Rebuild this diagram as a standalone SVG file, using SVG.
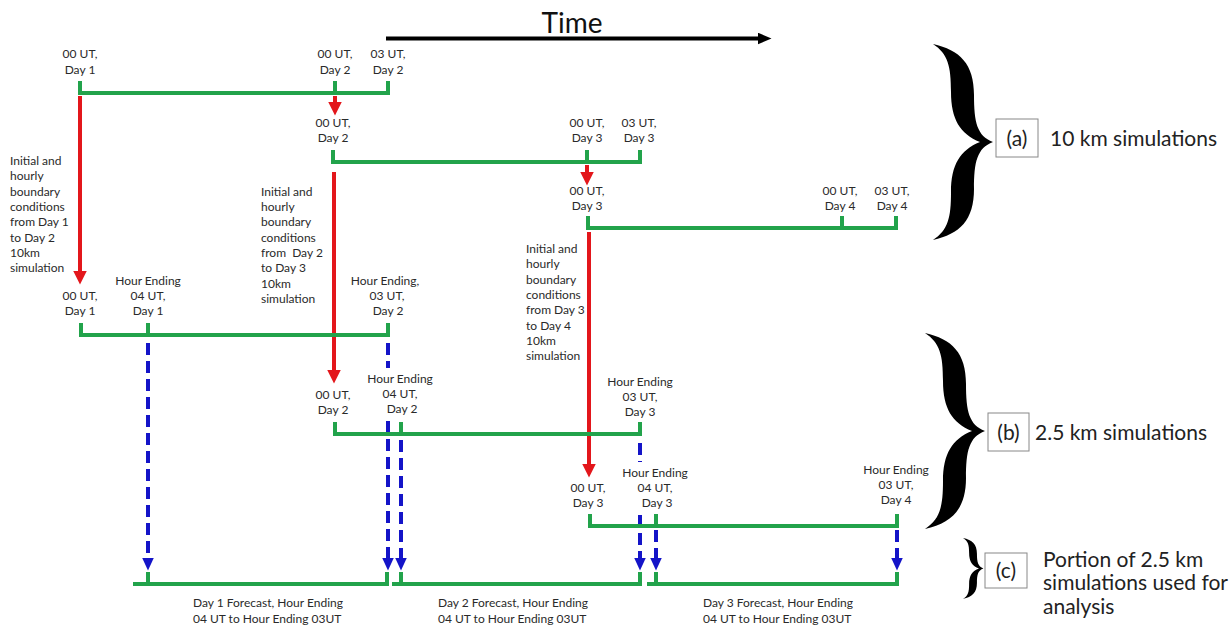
<svg xmlns="http://www.w3.org/2000/svg" width="1230" height="627" viewBox="0 0 1230 627">
<style>
.t{font-family:Lato,"Liberation Sans",sans-serif;font-size:12px;fill:#2a2a2a}
.m{text-anchor:middle}
.big{font-family:Lato,"Liberation Sans",sans-serif;font-size:21px;fill:#222}
.g{fill:none;stroke:#22a34b;stroke-width:4;stroke-linejoin:miter}
.r{stroke:#e3161b;stroke-width:4;fill:none}
.b{stroke:#1414c8;stroke-width:4;fill:none;stroke-dasharray:12 6}
.box{fill:#fff;stroke:#888;stroke-width:1}
</style>
<defs>
<marker id="ar" viewBox="0 -7 14 14" refX="0.5" refY="0" markerWidth="14" markerHeight="14" markerUnits="userSpaceOnUse" orient="auto"><path d="M0,-7 L14,0 L0,7 z" fill="#e3161b"/></marker>
<marker id="ab" viewBox="0 -6 13 12" refX="0.5" refY="0" markerWidth="13" markerHeight="12" markerUnits="userSpaceOnUse" orient="auto"><path d="M0,-6 L13,0 L0,6 z" fill="#1414c8"/></marker>
<marker id="ak" viewBox="0 -6 14 12" refX="0.5" refY="0" markerWidth="14" markerHeight="12" markerUnits="userSpaceOnUse" orient="auto"><path d="M0,-6 L14,0 L0,6 z" fill="#000"/></marker>
<path id="brace" d="M933 44 C960 50,974 64,974 95 C974 122,977 136,993 142 C977 148,974 162,974 189 C974 220,960 234,933 240 C948 230,951 218,951 192 C951 165,960 150,980 142 C960 134,951 119,951 92 C951 66,948 54,933 44 Z" fill="#000"/>
</defs>

<g id="time">
<text x="572" y="33" font-family="Lato,'Liberation Sans',sans-serif" font-size="28" fill="#111" text-anchor="middle">Time</text>
<line x1="386" y1="38.5" x2="758" y2="38.5" stroke="#000" stroke-width="4" marker-end="url(#ak)"/>
</g>

<g id="connectors">
<line class="r" x1="80" y1="96" x2="80" y2="271" marker-end="url(#ar)"/>
<line class="r" x1="335" y1="96" x2="335" y2="102" marker-end="url(#ar)"/>
<line class="r" x1="334" y1="172" x2="334" y2="370" marker-end="url(#ar)"/>
<line class="r" x1="587" y1="165" x2="587" y2="172" marker-end="url(#ar)"/>
<line class="r" x1="589" y1="232" x2="589" y2="464" marker-end="url(#ar)"/>
<line class="b" x1="148" y1="343" x2="148" y2="558" marker-end="url(#ab)"/>
<line class="b" x1="388" y1="343" x2="388" y2="368"/>
<line class="b" x1="388" y1="421" x2="388" y2="558" marker-end="url(#ab)"/>
<line class="b" x1="401" y1="440" x2="401" y2="558" marker-end="url(#ab)"/>
<line class="b" x1="640" y1="443" x2="640" y2="462"/>
<line class="b" x1="640" y1="515" x2="640" y2="558" marker-end="url(#ab)"/>
<line class="b" x1="656" y1="530" x2="656" y2="558" marker-end="url(#ab)"/>
<line class="b" x1="897" y1="530" x2="897" y2="558" marker-end="url(#ab)"/>
</g>

<g id="sim10-day1">
<path class="g" d="M80 81 V93 H388 V81 M335 93 V81"/>
<text class="t m" x="80" y="58">00 UT,</text><text class="t m" x="80" y="74">Day 1</text>
<text class="t m" x="335" y="58">00 UT,</text><text class="t m" x="335" y="74">Day 2</text>
<text class="t m" x="388" y="58">03 UT,</text><text class="t m" x="388" y="74">Day 2</text>
</g>

<g id="sim10-day2">
<path class="g" d="M333 150 V162 H640 V150 M587 162 V150"/>
<text class="t m" x="333" y="127">00 UT,</text><text class="t m" x="333" y="142">Day 2</text>
<text class="t m" x="587" y="127">00 UT,</text><text class="t m" x="587" y="142">Day 3</text>
<text class="t m" x="639" y="127">03 UT,</text><text class="t m" x="639" y="142">Day 3</text>
</g>

<g id="sim10-day3">
<path class="g" d="M588 216 V228 H896 V216 M842 228 V216"/>
<text class="t m" x="587" y="195">00 UT,</text><text class="t m" x="587" y="210">Day 3</text>
<text class="t m" x="840" y="195">00 UT,</text><text class="t m" x="840" y="210">Day 4</text>
<text class="t m" x="892" y="195">03 UT,</text><text class="t m" x="892" y="210">Day 4</text>
</g>

<g id="note1">
<text class="t" x="10" y="165">Initial and</text>
<text class="t" x="10" y="180">hourly</text>
<text class="t" x="10" y="196">boundary</text>
<text class="t" x="10" y="211">conditions</text>
<text class="t" x="10" y="226">from Day 1</text>
<text class="t" x="10" y="242">to Day 2</text>
<text class="t" x="10" y="257">10km</text>
<text class="t" x="10" y="272">simulation</text>
</g>
<g id="note2">
<text class="t" x="261" y="196">Initial and</text>
<text class="t" x="261" y="211">hourly</text>
<text class="t" x="261" y="226">boundary</text>
<text class="t" x="261" y="242">conditions</text>
<text class="t" x="261" y="257" xml:space="preserve">from  Day 2</text>
<text class="t" x="261" y="272">to Day 3</text>
<text class="t" x="261" y="288">10km</text>
<text class="t" x="261" y="303">simulation</text>
</g>
<g id="note3">
<text class="t" x="526" y="253">Initial and</text>
<text class="t" x="526" y="268">hourly</text>
<text class="t" x="526" y="284">boundary</text>
<text class="t" x="526" y="299">conditions</text>
<text class="t" x="526" y="314">from Day 3</text>
<text class="t" x="526" y="330">to Day 4</text>
<text class="t" x="526" y="345">10km</text>
<text class="t" x="526" y="360">simulation</text>
</g>

<g id="sim25-day1">
<path class="g" d="M81 323 V335 H388 V323 M148 335 V323"/>
<text class="t m" x="80" y="300">00 UT,</text><text class="t m" x="80" y="315">Day 1</text>
<text class="t m" x="148" y="285">Hour Ending</text><text class="t m" x="148" y="300">04 UT,</text><text class="t m" x="148" y="315">Day 1</text>
<text class="t m" x="385" y="285">Hour Ending,</text><text class="t m" x="387" y="300">03 UT,</text><text class="t m" x="388" y="315">Day 2</text>
</g>

<g id="sim25-day2">
<path class="g" d="M335 422 V434 H640 V422 M401 434 V422"/>
<text class="t m" x="333" y="399">00 UT,</text><text class="t m" x="333" y="414">Day 2</text>
<text class="t m" x="400" y="383">Hour Ending</text><text class="t m" x="400" y="398">04 UT,</text><text class="t m" x="402" y="413">Day 2</text>
<text class="t m" x="640" y="386">Hour Ending</text><text class="t m" x="640" y="401">03 UT,</text><text class="t m" x="640" y="416">Day 3</text>
</g>

<g id="sim25-day3">
<path class="g" d="M590 514 V526 H897 V514 M656 526 V514"/>
<text class="t m" x="588" y="492">00 UT,</text><text class="t m" x="588" y="507">Day 3</text>
<text class="t m" x="655" y="477">Hour Ending</text><text class="t m" x="655" y="492">04 UT,</text><text class="t m" x="657" y="507">Day 3</text>
<text class="t m" x="896" y="474">Hour Ending</text><text class="t m" x="896" y="489">03 UT,</text><text class="t m" x="896" y="504">Day 4</text>
</g>

<g id="analysis">
<path class="g" d="M133 584 H387 V572 M148 584 V572"/>
<path class="g" d="M392 584 H640 V572 M401 584 V572"/>
<path class="g" d="M647 584 H897 V572 M656 584 V572"/>
<text class="t" x="193" y="607">Day 1 Forecast, Hour Ending</text>
<text class="t" x="193" y="623">04 UT to Hour Ending 03UT</text>
<text class="t" x="438" y="607">Day 2 Forecast, Hour Ending</text>
<text class="t" x="438" y="623">04 UT to Hour Ending 03UT</text>
<text class="t" x="703" y="607">Day 3 Forecast, Hour Ending</text>
<text class="t" x="703" y="623">04 UT to Hour Ending 03UT</text>
</g>

<g id="legend-a">
<use href="#brace"/>
<rect class="box" x="996" y="119" width="42" height="38"/>
<text class="big" x="1017" y="146" text-anchor="middle">(a)</text>
<text class="big" x="1050" y="146">10 km simulations</text>
</g>
<g id="legend-b">
<use href="#brace" transform="translate(-8,289)"/>
<rect class="box" x="988" y="413" width="41" height="38"/>
<text class="big" x="1008.5" y="440" text-anchor="middle">(b)</text>
<text class="big" x="1035" y="440">2.5 km simulations</text>
</g>
<g id="legend-c">
<use href="#brace" transform="translate(963,538) scale(0.34,0.31) translate(-933,-44)"/>
<rect class="box" x="985" y="553" width="42" height="35"/>
<text class="big" x="1006" y="578" text-anchor="middle">(c)</text>
<text class="big" x="1043" y="567">Portion of 2.5 km</text>
<text class="big" x="1043" y="590">simulations used for</text>
<text class="big" x="1043" y="614">analysis</text>
</g>
</svg>
